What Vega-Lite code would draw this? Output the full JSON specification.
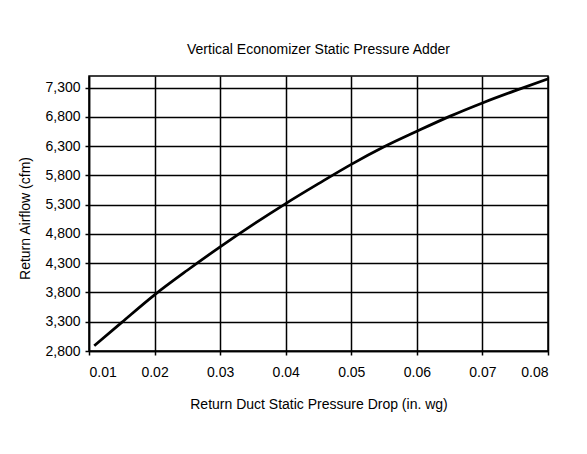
{
  "$schema": "https://vega.github.io/schema/vega-lite/v6.json",
  "autosize": "none",
  "width": 459,
  "height": 275,
  "padding": {"left": 89, "top": 76, "right": 39, "bottom": 103},
  "background": "white",
  "title": {
    "text": "Vertical Economizer Static Pressure Adder",
    "font": "Liberation Sans",
    "fontSize": 14,
    "fontWeight": "normal",
    "color": "black",
    "baseline": "alphabetic",
    "offset": 5,
    "anchor": "middle"
  },
  "config": {
    "view": {"stroke": "black", "strokeWidth": 1.5},
    "axis": {
      "labelFont": "Liberation Sans",
      "labelFontSize": 14,
      "labelColor": "black",
      "titleFont": "Liberation Sans",
      "titleFontSize": 14,
      "titleFontWeight": "normal",
      "titleColor": "black",
      "domainColor": "black",
      "domainWidth": 1.5,
      "tickColor": "black",
      "tickWidth": 1.5,
      "tickSize": 4,
      "gridColor": "black",
      "gridWidth": 1.5,
      "gridOpacity": 1
    }
  },
  "data": {
    "values": [
      {"drop": 0.0108, "airflow": 2890},
      {"drop": 0.015, "airflow": 3290},
      {"drop": 0.02, "airflow": 3760},
      {"drop": 0.025, "airflow": 4180},
      {"drop": 0.03, "airflow": 4580},
      {"drop": 0.035, "airflow": 4960},
      {"drop": 0.04, "airflow": 5320},
      {"drop": 0.045, "airflow": 5660},
      {"drop": 0.05, "airflow": 5990},
      {"drop": 0.055, "airflow": 6290},
      {"drop": 0.06, "airflow": 6555},
      {"drop": 0.065, "airflow": 6810},
      {"drop": 0.07, "airflow": 7040},
      {"drop": 0.075, "airflow": 7250},
      {"drop": 0.08, "airflow": 7450}
    ]
  },
  "mark": {"type": "line", "color": "black", "strokeWidth": 2.75, "interpolate": "monotone"},
  "encoding": {
    "x": {
      "field": "drop",
      "type": "quantitative",
      "scale": {"domain": [0.01, 0.08], "nice": false, "zero": false},
      "axis": {
        "values": [0.01, 0.02, 0.03, 0.04, 0.05, 0.06, 0.07, 0.08],
        "format": ".2f",
        "labelPadding": 10,
        "title": "Return Duct Static Pressure Drop  (in. wg)",
        "titleY": 57,
        "titleBaseline": "alphabetic"
      }
    },
    "y": {
      "field": "airflow",
      "type": "quantitative",
      "scale": {"domain": [2800, 7500], "nice": false, "zero": false},
      "axis": {
        "values": [2800, 3300, 3800, 4300, 4800, 5300, 5800, 6300, 6800, 7300],
        "format": ",d",
        "labelPadding": 5,
        "title": "Return Airflow (cfm)",
        "titleX": -64,
        "titleY": 142,
        "titleBaseline": "middle"
      }
    }
  }
}
